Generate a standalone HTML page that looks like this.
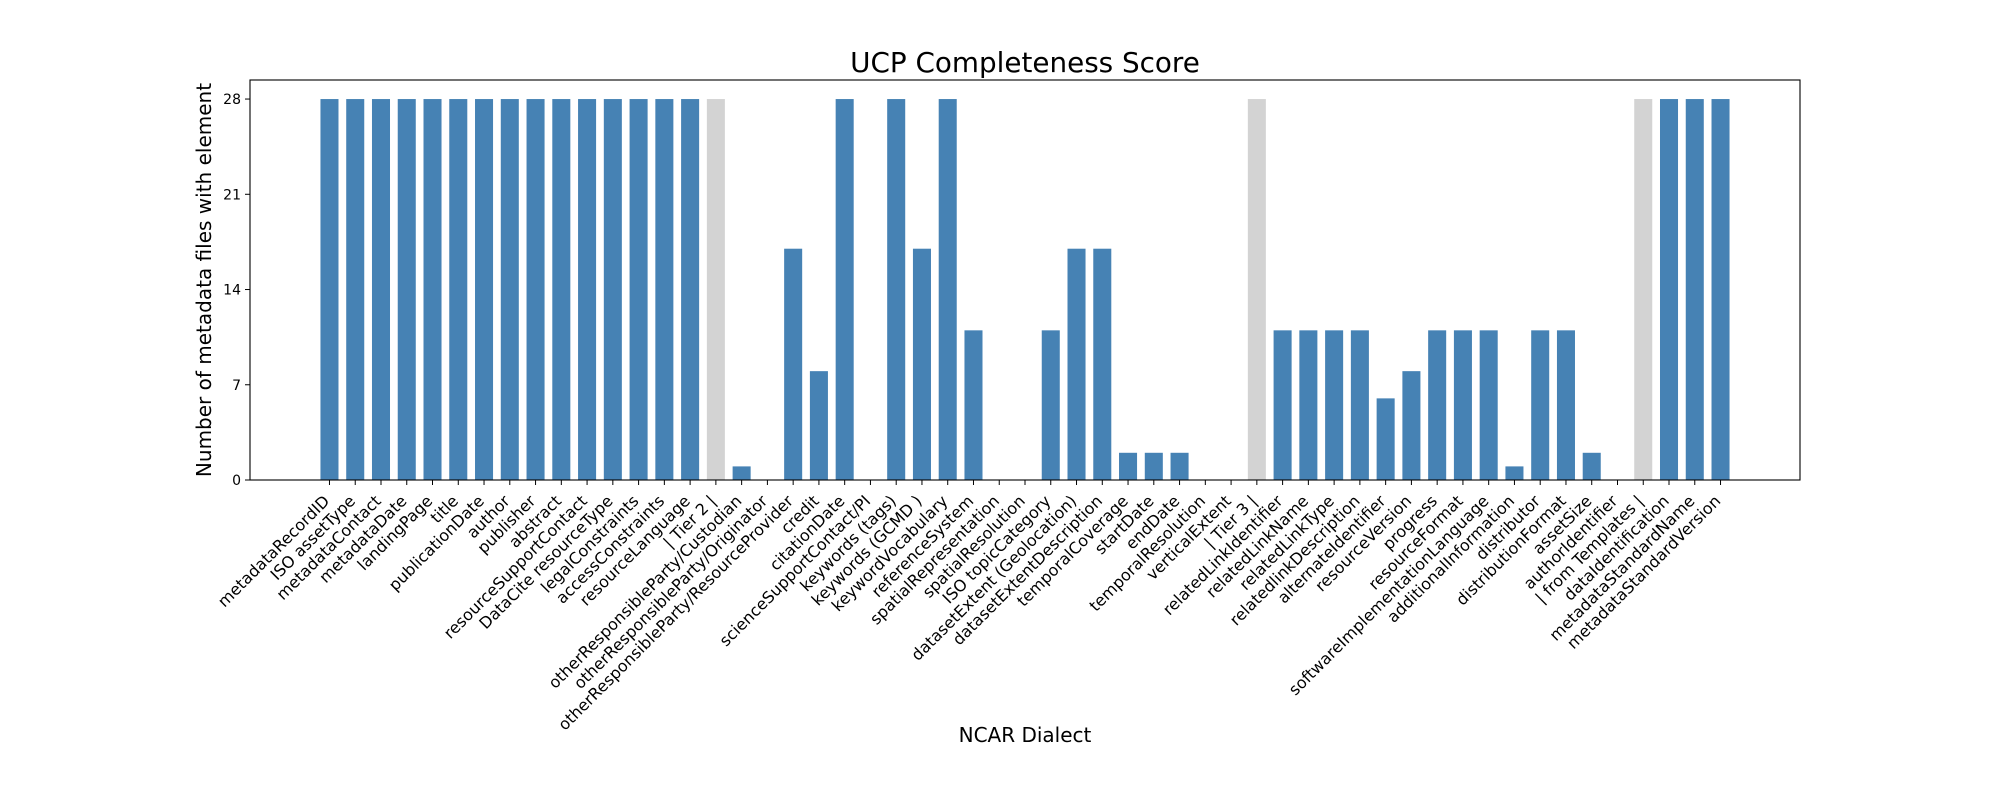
<!DOCTYPE html>
<html><head><meta charset="utf-8"><style>
html,body{margin:0;padding:0;background:#fff;}
svg{display:block;font-family:"DejaVu Sans","Liberation Sans",sans-serif;}
</style></head><body>
<svg id="chart" width="2000" height="800" xmlns="http://www.w3.org/2000/svg">
<rect x="0" y="0" width="2000" height="800" fill="#fff"/>
<text x="1025" y="72" font-size="27.8" text-anchor="middle">UCP Completeness Score</text>
<text x="1025" y="742" font-size="20" text-anchor="middle">NCAR Dialect</text>
<text transform="translate(211,280) rotate(-90)" font-size="20" text-anchor="middle">Number of metadata files with element</text>
<g id="bars"></g>
<g id="xticks"></g>
<g id="yticks"></g>
<rect x="250" y="80" width="1550" height="400" fill="none" stroke="#000" stroke-width="1.1"/>
</svg>
<script>
const categories = ["metadataRecordID","ISO assetType","metadataContact","metadataDate","landingPage","title","publicationDate","author","publisher","abstract","resourceSupportContact","DataCite resourceType","legalConstraints","accessConstraints","resourceLanguage","| Tier 2 |","otherResponsibleParty/Custodian","otherResponsibleParty/Originator","otherResponsibleParty/ResourceProvider","credit","citationDate","scienceSupportContact/PI","keywords (tags)","keywords (GCMD )","keywordVocabulary","referenceSystem","spatialRepresentation","spatialResolution","ISO topicCategory","datasetExtent (Geolocation)","datasetExtentDescription","temporalCoverage","startDate","endDate","temporalResolution","verticalExtent","| Tier 3 |","relatedLinkIdentifier","relatedLinkName","relatedLinkType","relatedlinkDescription","alternateIdentifier","resourceVersion","progress","resourceFormat","softwareImplementationLanguage","additionalInformation","distributor","distributionFormat","assetSize","authorIdentifier","| from Templates |","dataIdentification","metadataStandardName","metadataStandardVersion"];
const counts = [28,28,28,28,28,28,28,28,28,28,28,28,28,28,28,28,1,0,17,8,28,0,28,17,28,11,0,0,11,17,17,2,2,2,0,0,28,11,11,11,11,6,8,11,11,11,1,11,11,2,0,28,28,28,28];
const yTicks = [0,7,14,21,28];

const NS="http://www.w3.org/2000/svg";
const L=250,R=1800,T=80,B=480;
const n=categories.length, bw=0.7;
const xmin=-bw/2-0.05*(n-1+bw), xmax=(n-1)+bw/2+0.05*(n-1+bw);
const ymax=Math.max(...counts)*1.05;
const xs=v=>L+(v-xmin)/(xmax-xmin)*(R-L);
const ys=v=>B-v/ymax*(B-T);
const bars=document.getElementById('bars'),xt=document.getElementById('xticks'),yt=document.getElementById('yticks');
categories.forEach((c,i)=>{
  const r=document.createElementNS(NS,'rect');
  
  
  const x0=xs(i-bw/2),x1=xs(i+bw/2);
  r.setAttribute('x',x0);r.setAttribute('width',x1-x0);
  r.setAttribute('y',ys(counts[i]));r.setAttribute('height',ys(0)-ys(counts[i]));
  r.setAttribute('fill',c.startsWith('|')?'#d3d3d3':'#4682b4');
  bars.appendChild(r);
  const cx=xs(i);
  const tk=document.createElementNS(NS,'line');
  
  
  tk.setAttribute('x1',cx);tk.setAttribute('x2',cx);tk.setAttribute('y1',B);tk.setAttribute('y2',B+5);
  tk.setAttribute('stroke','#000');xt.appendChild(tk);
  const t=document.createElementNS(NS,'text');
  
  
  const ax=cx+1,ay=502;
  t.setAttribute('x',ax);t.setAttribute('y',ay);
  t.setAttribute('text-anchor','end');t.setAttribute('font-size','16');
  t.setAttribute('transform','rotate(-45 '+ax+' '+ay+')');
  t.textContent=c;xt.appendChild(t);
});
yTicks.forEach(v=>{
  const y=ys(v);
  const tk=document.createElementNS(NS,'line');
  
  
  tk.setAttribute('x1',L-5);tk.setAttribute('x2',L);tk.setAttribute('y1',y);tk.setAttribute('y2',y);
  tk.setAttribute('stroke','#000');yt.appendChild(tk);
  const t=document.createElementNS(NS,'text');
  
  
  t.setAttribute('x',L-9);t.setAttribute('y',y+5);
  t.setAttribute('text-anchor','end');t.setAttribute('font-size','14');
  t.textContent=v;yt.appendChild(t);
});
</script>
</body></html>
